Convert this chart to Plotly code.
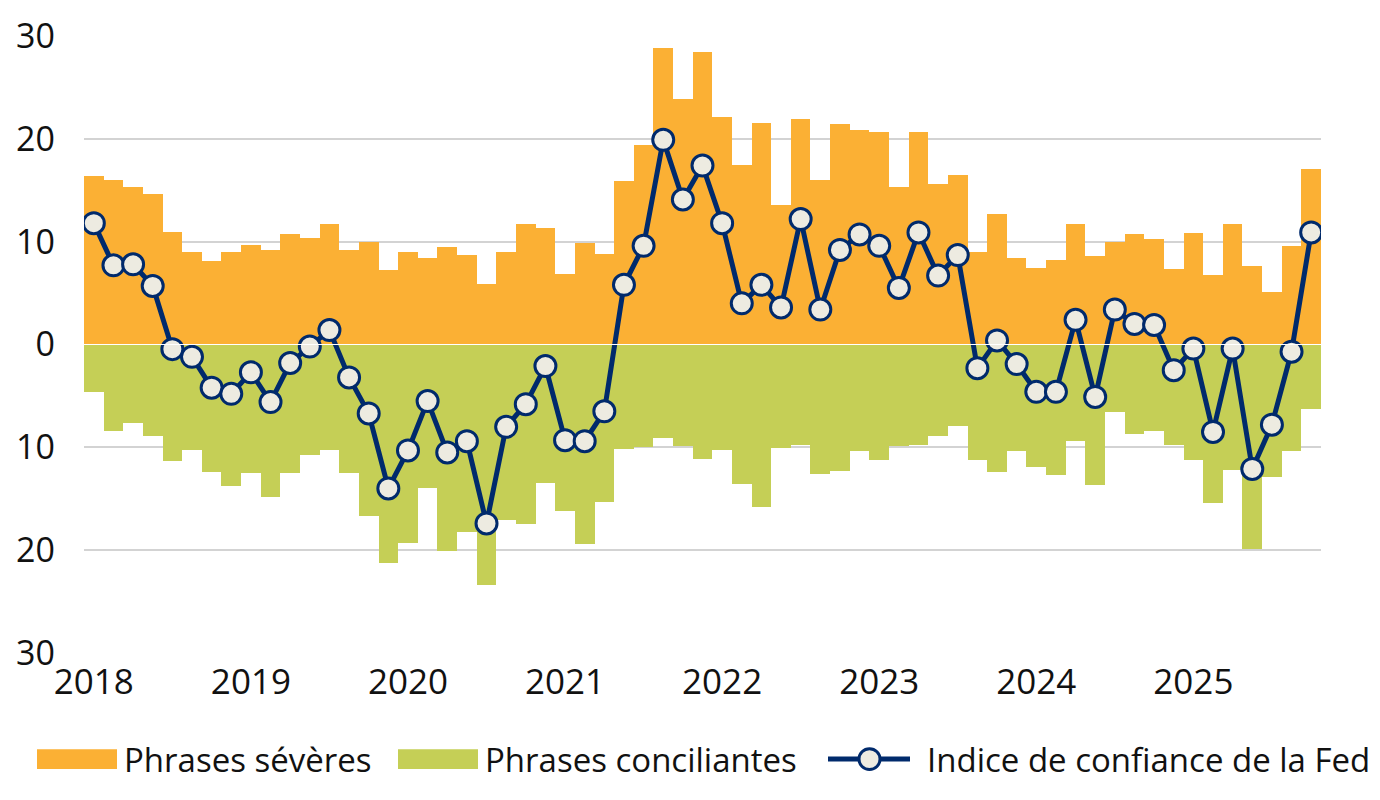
import plotly.graph_objects as go

# FOMC meetings (8 per year), starting 2018
hawkish = [16.4, 16.0, 15.3, 14.6, 10.9, 9.0, 8.1, 9.0,
           9.7, 9.2, 10.7, 10.4, 11.7, 9.2, 10.0, 7.2,
           9.0, 8.4, 9.5, 8.7, 5.9, 9.0, 11.7, 11.3,
           6.9, 9.9, 8.8, 15.9, 19.4, 28.8, 23.9, 28.4,
           22.1, 17.5, 21.5, 13.6, 21.9, 16.0, 21.4, 20.9,
           20.7, 15.3, 20.7, 15.6, 16.5, 9.0, 12.7, 8.4,
           7.4, 8.2, 11.7, 8.6, 10.0, 10.7, 10.3, 7.3,
           10.8, 6.8, 11.7, 7.6, 5.1, 9.6, 17.1]
dovish = [4.6, 8.4, 7.6, 8.9, 11.3, 10.3, 12.4, 13.8,
          12.5, 14.8, 12.5, 10.7, 10.3, 12.5, 16.7, 21.2,
          19.3, 14.0, 20.1, 18.2, 23.4, 17.1, 17.5, 13.5,
          16.2, 19.4, 15.3, 10.2, 10.0, 9.1, 9.9, 11.1,
          10.3, 13.6, 15.8, 10.1, 9.8, 12.6, 12.3, 10.4,
          11.2, 9.9, 9.8, 8.9, 7.9, 11.2, 12.4, 10.4,
          11.9, 12.7, 9.4, 13.7, 6.6, 8.7, 8.4, 9.8,
          11.2, 15.4, 12.2, 19.9, 12.9, 10.4, 6.3]
index_vals = [11.8, 7.7, 7.8, 5.7, -0.45, -1.2, -4.2, -4.8,
              -2.7, -5.6, -1.8, -0.2, 1.4, -3.2, -6.7, -14.0,
              -10.3, -5.5, -10.5, -9.4, -17.4, -8.0, -5.8, -2.1,
              -9.3, -9.4, -6.5, 5.8, 9.6, 19.9, 14.1, 17.4,
              11.8, 4.0, 5.8, 3.6, 12.2, 3.4, 9.2, 10.7,
              9.6, 5.5, 10.9, 6.7, 8.7, -2.3, 0.4, -1.9,
              -4.6, -4.6, 2.4, -5.1, 3.4, 2.0, 1.9, -2.5,
              -0.4, -8.5, -0.4, -12.1, -7.8, -0.7, 10.9]
meetings = [2018 + i / 8 for i in range(len(hawkish))]

year_ticks = [2018, 2019, 2020, 2021, 2022, 2023, 2024, 2025]
y_ticks = [-30, -20, -10, 0, 10, 20, 30]
y_labels = ["30", "20", "10", "0", "10", "20", "30"]

ORANGE = "#FBB034"
GREEN = "#C5CF56"
NAVY = "#002A6C"
CREAM = "#EDEBE1"
FONT = "Open Sans"

fig = go.Figure()
fig.add_trace(go.Bar(x=meetings, y=hawkish, width=1 / 8, name="Phrases sévères",
                     marker=dict(color=ORANGE, line=dict(width=0))))
fig.add_trace(go.Bar(x=meetings, y=[-d for d in dovish], width=1 / 8, name="Phrases conciliantes",
                     marker=dict(color=GREEN, line=dict(width=0))))
fig.add_trace(go.Scatter(x=meetings, y=index_vals, mode="lines+markers",
                         name="Indice de confiance de la Fed",
                         line=dict(color=NAVY, width=5),
                         marker=dict(size=21, color=CREAM, line=dict(color=NAVY, width=3))))

# zero separator
fig.add_shape(type="line", xref="paper", yref="y", x0=0, x1=1, y0=0, y1=0,
              line=dict(color="white", width=1.2), layer="above")

# manual legend
legend_y = -0.172
def px2paper_x(px):
    return (px - 84) / 1237
for x0, x1, col in [(37, 117, ORANGE), (398, 478, GREEN)]:
    fig.add_shape(type="rect", xref="paper", yref="paper",
                  x0=px2paper_x(x0), x1=px2paper_x(x1),
                  y0=legend_y - 0.016, y1=legend_y + 0.016,
                  fillcolor=col, line=dict(width=0))
fig.add_shape(type="line", xref="paper", yref="paper",
              x0=px2paper_x(828), x1=px2paper_x(910), y0=legend_y, y1=legend_y,
              line=dict(color=NAVY, width=5))
fig.add_shape(type="circle", xref="paper", yref="paper",
              x0=px2paper_x(859), x1=px2paper_x(880),
              y0=legend_y - 10.5 / 622, y1=legend_y + 10.5 / 622,
              fillcolor=CREAM, line=dict(color=NAVY, width=3))
for xpx, txt in [(122, "Phrases sévères"), (483, "Phrases conciliantes"),
                 (925, "Indice de confiance de la Fed")]:
    fig.add_annotation(xref="paper", yref="paper", x=px2paper_x(xpx), y=legend_y,
                       text=txt, showarrow=False, xanchor="left", yanchor="middle",
                       font=dict(family=FONT, size=33, color="#111111"))

fig.update_layout(
    width=1380, height=800,
    margin=dict(l=84, r=59, t=31, b=147),
    paper_bgcolor="white", plot_bgcolor="white",
    barmode="overlay", bargap=0,
    showlegend=False,
    font=dict(family=FONT, size=32, color="#111111"),
)
fig.update_xaxes(range=[2018 - 1 / 16, 2025.75 + 1 / 16], tickvals=year_ticks,
                 ticktext=[str(y) for y in year_ticks], showgrid=False, zeroline=False,
                 showline=False, ticks="", ticklabelstandoff=5,
                 tickfont=dict(family=FONT, size=35, color="#111111"))
fig.update_yaxes(range=[-30, 30], tickvals=y_ticks, ticktext=y_labels,
                 showgrid=True, gridcolor="#D3D3D3", gridwidth=1.5, zeroline=False,
                 showline=False, ticks="", ticklabelstandoff=28,
                 tickfont=dict(family=FONT, size=34, color="#111111"))

fig.write_html("out.html")
